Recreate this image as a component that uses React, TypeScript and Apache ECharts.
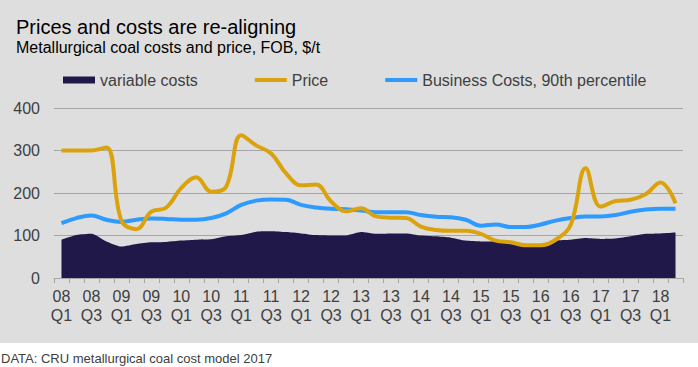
import React, { useEffect, useRef } from "react";
import * as echarts from "echarts";

const quarters = [
  "08 Q1", "08 Q2", "08 Q3", "08 Q4",
  "09 Q1", "09 Q2", "09 Q3", "09 Q4",
  "10 Q1", "10 Q2", "10 Q3", "10 Q4",
  "11 Q1", "11 Q2", "11 Q3", "11 Q4",
  "12 Q1", "12 Q2", "12 Q3", "12 Q4",
  "13 Q1", "13 Q2", "13 Q3", "13 Q4",
  "14 Q1", "14 Q2", "14 Q3", "14 Q4",
  "15 Q1", "15 Q2", "15 Q3", "15 Q4",
  "16 Q1", "16 Q2", "16 Q3", "16 Q4",
  "17 Q1", "17 Q2", "17 Q3", "17 Q4",
  "18 Q1", "18 Q2",
];

const variableCosts = [
  90, 101, 104, 86, 74, 80, 84, 85, 88, 90,
  91, 98, 101, 109, 110, 108, 105, 101, 100, 100,
  108, 104, 105, 105, 100, 98, 95, 88, 86, 86,
  80, 76, 77, 88, 90, 94, 92, 93, 98, 104,
  105, 107,
];

const price = [
  300, 300, 300, 307, 135, 115, 156, 166, 212, 237,
  203, 215, 336, 312, 293, 246, 218, 220, 180, 157,
  164, 145, 142, 141, 121, 113, 111, 111, 104, 88,
  84, 77, 77, 90, 125, 258, 168, 181, 184, 197,
  225, 176,
];

const businessCosts = [
  129, 141, 147, 137, 132, 137, 140, 139, 137, 137,
  141, 152, 172, 182, 185, 184, 172, 166, 163, 162,
  159, 155, 155, 155, 148, 144, 143, 137, 123, 126,
  120, 120, 126, 135, 141, 145, 145, 148, 156, 161,
  163, 163,
];

const seriesNames = ["variable costs", "Price", "Business Costs, 90th percentile"];

const FONT = "'Liberation Sans', Arial, Helvetica, sans-serif";
const NAVY = "#21184A";
const GOLD = "#DAA30E";
const BLUE = "#2E9AFE";

export default function App() {
  const ref = useRef<HTMLDivElement>(null);

  useEffect(() => {
    if (!ref.current) return;
    const chart = echarts.init(ref.current, null, { renderer: "svg" });
    chart.setOption({
      animation: false,
      backgroundColor: "#ffffff",
      textStyle: { fontFamily: FONT },
      graphic: [
        {
          type: "rect",
          z: -10,
          silent: true,
          shape: { x: 0, y: 0, width: 698, height: 343 },
          style: { fill: "#DEDEDE" },
        },
        {
          type: "text",
          left: 1,
          top: 352,
          style: {
            text: "DATA: CRU metallurgical coal cost model 2017",
            font: `13px ${FONT}`,
            fill: "#404040",
          },
        },
      ],
      title: {
        text: "Prices and costs are re-aligning",
        subtext: "Metallurgical coal costs and price, FOB, $/t",
        left: 11,
        top: 12,
        itemGap: 2,
        textStyle: { fontFamily: FONT, fontSize: 20, fontWeight: "normal", color: "#000000" },
        subtextStyle: { fontFamily: FONT, fontSize: 16, color: "#000000" },
      },
      legend: {
        left: 58,
        top: 67,
        itemWidth: 32,
        itemHeight: 7,
        itemGap: 55,
        textStyle: { fontFamily: FONT, fontSize: 16, color: "#404040" },
        data: [
          { name: seriesNames[0], icon: "rect" },
          { name: seriesNames[1], itemStyle: { opacity: 0 }, lineStyle: { width: 4, color: GOLD } },
          { name: seriesNames[2], itemStyle: { opacity: 0 }, lineStyle: { width: 4, color: BLUE } },
        ],
      },
      grid: { left: 54, right: 15, top: 108, bottom: 89 },
      xAxis: {
        type: "category",
        data: quarters,
        boundaryGap: true,
        axisLine: { lineStyle: { color: "#A6A6A6", width: 1 } },
        axisTick: { show: true, interval: 0, length: 5, lineStyle: { color: "#A6A6A6" } },
        axisLabel: {
          interval: 1,
          margin: 9,
          fontSize: 16,
          lineHeight: 19,
          color: "#404040",
          fontFamily: FONT,
          formatter: (v: string) => v.replace(" ", "\n"),
        },
      },
      yAxis: {
        type: "value",
        min: 0,
        max: 400,
        interval: 100,
        axisLine: { show: false },
        axisTick: { show: false },
        axisLabel: { fontSize: 16, color: "#404040", margin: 14, fontFamily: FONT },
        splitLine: { lineStyle: { color: "#A6A6A6", width: 1 } },
      },
      series: [
        {
          name: seriesNames[0],
          type: "line",
          data: variableCosts,
          symbol: "none",
          smooth: 0.2,
          lineStyle: { width: 0, color: NAVY },
          itemStyle: { color: NAVY },
          areaStyle: { color: NAVY, opacity: 1 },
          z: 1,
        },
        {
          name: seriesNames[1],
          type: "line",
          data: price,
          symbol: "none",
          smooth: 0.4,
          lineStyle: { width: 4, color: GOLD },
          itemStyle: { color: GOLD },
          z: 3,
        },
        {
          name: seriesNames[2],
          type: "line",
          data: businessCosts,
          symbol: "none",
          smooth: 0.4,
          lineStyle: { width: 4, color: BLUE },
          itemStyle: { color: BLUE },
          z: 2,
        },
      ],
    });
    return () => chart.dispose();
  }, []);

  return (
    <div
      ref={ref}
      style={{ position: "absolute", left: 0, top: 0, width: 698, height: 367 }}
    />
  );
}
